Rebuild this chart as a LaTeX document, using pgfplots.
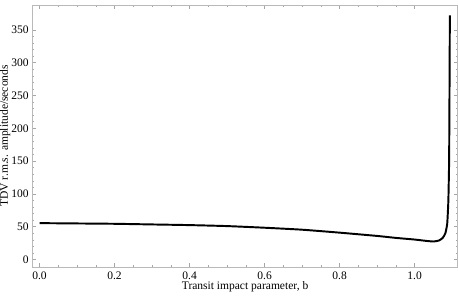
\documentclass[border=0pt]{standalone}
\usepackage{pgfplots}
\pgfplotsset{compat=1.18}
\usepackage{fontspec}
\setmainfont{Liberation Serif}
\begin{document}
\begin{tikzpicture}
\begin{axis}[
  scale only axis,
  width=317.6pt, height=195.5pt,
  xmin=-0.019, xmax=1.115,
  ymin=-11, ymax=388,
  xtick={0,0.2,0.4,0.6,0.8,1.0},
  xticklabels={0.0,0.2,0.4,0.6,0.8,1.0},
  minor x tick num=3,
  ytick={0,50,100,150,200,250,300,350},
  minor y tick num=4,
  tick pos=both,
  tick align=inside,
  major tick length=3pt,
  minor tick length=1.5pt,
  axis line style={gray!55},
  every tick/.style={gray!70},
  tick label style={font=\fontsize{8.6}{10}\selectfont},
  /pgf/number format/assume math mode=true,
  yticklabel style={xshift=0.8pt},
  label style={font=\fontsize{8.6}{10}\selectfont},
  xlabel={Transit impact parameter, b},
  ylabel={TDV r.m.s. amplitude/seconds},
  xlabel style={at={(axis description cs:0.5,0)}, anchor=north, inner sep=0pt, yshift=-10.5pt},
  ylabel style={at={(axis description cs:0,0.5)}, anchor=center, inner sep=0pt, yshift=20.3pt},
]
\coordinate (bl) at (rel axis cs:0,0);
\coordinate (tl) at (rel axis cs:0,1);
\addplot[black, line width=1.45pt, smooth, tension=0.3] coordinates {
(0,55.5) (0.1,55) (0.2,54.5) (0.3,53.5) (0.4,52.5) (0.5,51) (0.6,48.5)
(0.7,45.5) (0.8,41) (0.9,36) (0.95,33) (1.0,30.5) (1.03,28.5) (1.05,27.5)
(1.065,29) (1.075,33) (1.082,40) (1.087,55) (1.09,90) (1.092,150)
(1.093,250) (1.094,372)
};
\end{axis}
\path (bl) ++(0,-26pt) coordinate (bb1);
\path (tl) ++(0,3.7pt) coordinate (bb2);
\end{tikzpicture}
\end{document}
